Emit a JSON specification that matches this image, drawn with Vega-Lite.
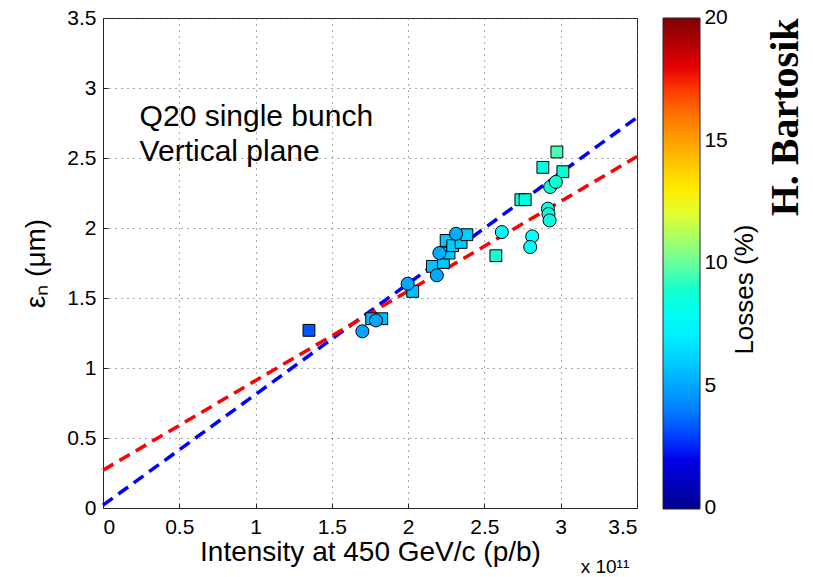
{
  "$schema": "https://vega.github.io/schema/vega-lite/v6.json",
  "width": 534,
  "height": 490,
  "autosize": {"type": "none"},
  "padding": {"left": 103, "top": 18, "right": 176, "bottom": 69},
  "background": "white",
  "config": {
    "font": "Liberation Sans",
    "view": {"stroke": "#262626", "strokeWidth": 1},
    "axis": {
      "domainColor": "#262626",
      "tickColor": "#262626",
      "tickSize": -5,
      "labelFontSize": 21,
      "labelColor": "black",
      "titleFontSize": 28,
      "titleFontWeight": "normal",
      "titleColor": "black",
      "grid": true,
      "gridDash": [1, 5],
      "gridColor": "#555555",
      "gridOpacity": 1,
      "format": "~g"
    }
  },
  "datasets": {
    "pts": [
      {"intensity": 1.350, "emit": 1.269, "loss": 3.3, "kind": "square"},
      {"intensity": 1.761, "emit": 1.352, "loss": 5.3, "kind": "square"},
      {"intensity": 1.827, "emit": 1.352, "loss": 5.5, "kind": "square"},
      {"intensity": 2.030, "emit": 1.547, "loss": 5.6, "kind": "square"},
      {"intensity": 2.159, "emit": 1.726, "loss": 5.7, "kind": "square"},
      {"intensity": 2.231, "emit": 1.754, "loss": 5.8, "kind": "square"},
      {"intensity": 2.268, "emit": 1.821, "loss": 5.8, "kind": "square"},
      {"intensity": 2.249, "emit": 1.911, "loss": 5.9, "kind": "square"},
      {"intensity": 2.292, "emit": 1.874, "loss": 6.0, "kind": "square"},
      {"intensity": 2.347, "emit": 1.897, "loss": 6.0, "kind": "square"},
      {"intensity": 2.385, "emit": 1.952, "loss": 6.1, "kind": "square"},
      {"intensity": 2.575, "emit": 1.802, "loss": 9.0, "kind": "square"},
      {"intensity": 2.739, "emit": 2.202, "loss": 8.5, "kind": "square"},
      {"intensity": 2.767, "emit": 2.202, "loss": 8.5, "kind": "square"},
      {"intensity": 2.883, "emit": 2.433, "loss": 8.4, "kind": "square"},
      {"intensity": 3.014, "emit": 2.402, "loss": 8.8, "kind": "square"},
      {"intensity": 2.975, "emit": 2.543, "loss": 9.5, "kind": "square"},
      {"intensity": 1.700, "emit": 1.262, "loss": 4.9, "kind": "circle"},
      {"intensity": 1.789, "emit": 1.340, "loss": 5.0, "kind": "circle"},
      {"intensity": 1.997, "emit": 1.602, "loss": 5.0, "kind": "circle"},
      {"intensity": 2.188, "emit": 1.662, "loss": 5.1, "kind": "circle"},
      {"intensity": 2.205, "emit": 1.821, "loss": 5.1, "kind": "circle"},
      {"intensity": 2.314, "emit": 1.959, "loss": 5.2, "kind": "circle"},
      {"intensity": 2.614, "emit": 1.971, "loss": 7.4, "kind": "circle"},
      {"intensity": 2.813, "emit": 1.940, "loss": 7.6, "kind": "circle"},
      {"intensity": 2.800, "emit": 1.864, "loss": 7.5, "kind": "circle"},
      {"intensity": 2.916, "emit": 2.138, "loss": 8.5, "kind": "circle"},
      {"intensity": 2.920, "emit": 2.100, "loss": 8.6, "kind": "circle"},
      {"intensity": 2.927, "emit": 2.054, "loss": 8.4, "kind": "circle"},
      {"intensity": 2.931, "emit": 2.293, "loss": 8.9, "kind": "circle"},
      {"intensity": 2.968, "emit": 2.329, "loss": 8.9, "kind": "circle"}
    ],
    "blueFit": [
      {"intensity": 0, "emit": 0.02},
      {"intensity": 3.5, "emit": 2.79}
    ],
    "redFit": [
      {"intensity": 0, "emit": 0.27},
      {"intensity": 3.5, "emit": 2.51}
    ],
    "notes": [
      {"intensity": 0.24, "emit": 2.795, "label": "Q20 single bunch"},
      {"intensity": 0.24, "emit": 2.54, "label": "Vertical plane"}
    ],
    "mult": [{"intensity": 3.29, "emit": -0.42, "label": "x 10¹¹"}],
    "barLabels": [
      {"intensity": 3.942, "emit": 0, "label": "0"},
      {"intensity": 3.942, "emit": 0.875, "label": "5"},
      {"intensity": 3.942, "emit": 1.75, "label": "10"},
      {"intensity": 3.942, "emit": 2.625, "label": "15"},
      {"intensity": 3.942, "emit": 3.5, "label": "20"}
    ],
    "legendTitle": [{"intensity": 4.21, "emit": 1.56, "label": "Losses (%)"}],
    "author": [{"intensity": 4.475, "emit": 2.79, "label": "H. Bartosik"}]
  },
  "layer": [
    {
      "data": {"name": "blueFit"},
      "mark": {"type": "line", "color": "#0000ff", "strokeWidth": 3.5, "strokeDash": [12, 7]},
      "encoding": {
        "x": {"field": "intensity", "type": "quantitative", "scale": {"domain": [0, 3.5], "nice": false},
          "axis": {"values": [0, 0.5, 1, 1.5, 2, 2.5, 3, 3.5], "title": "Intensity at 450 GeV/c (p/b)", "labelPadding": 13, "titlePadding": 1}},
        "y": {"field": "emit", "type": "quantitative", "scale": {"domain": [0, 3.5], "nice": false},
          "axis": {"values": [0, 0.5, 1, 1.5, 2, 2.5, 3, 3.5], "title": "εₙ (μm)", "labelPadding": 12, "titlePadding": 16}}
      }
    },
    {
      "data": {"name": "redFit"},
      "mark": {"type": "line", "color": "#ff0000", "strokeWidth": 3.5, "strokeDash": [12, 7]},
      "encoding": {
        "x": {"field": "intensity", "type": "quantitative"},
        "y": {"field": "emit", "type": "quantitative"}
      }
    },
    {
      "data": {"name": "pts"},
      "transform": [{"filter": "datum.kind === 'square'"}],
      "mark": {"type": "square", "size": 140, "stroke": "black", "strokeWidth": 1, "opacity": 1},
      "encoding": {
        "x": {"field": "intensity", "type": "quantitative"},
        "y": {"field": "emit", "type": "quantitative"},
        "fill": {"field": "loss", "type": "quantitative",
          "scale": {"domain": [0, 2.5, 7.5, 12.5, 17.5, 20], "range": ["#00008f", "#0000ff", "#00ffff", "#ffff00", "#ff0000", "#800000"]},
          "legend": {
            "orient": "none", "legendX": 560, "legendY": 0, "direction": "vertical",
            "values": [0, 5, 10, 15, 20],
            "gradientLength": 491, "gradientThickness": 37,
            "gradientStrokeColor": "#262626", "gradientStrokeWidth": 1,
            "labelOpacity": 0, "labelFontSize": 1,
            "title": null
          }
        }
      }
    },
    {
      "data": {"name": "pts"},
      "transform": [{"filter": "datum.kind === 'circle'"}],
      "mark": {"type": "circle", "size": 170, "stroke": "black", "strokeWidth": 1, "opacity": 1},
      "encoding": {
        "x": {"field": "intensity", "type": "quantitative"},
        "y": {"field": "emit", "type": "quantitative"},
        "fill": {"field": "loss", "type": "quantitative"}
      }
    },
    {
      "data": {"name": "notes"},
      "mark": {"type": "text", "align": "left", "baseline": "middle", "fontSize": 30, "color": "black"},
      "encoding": {
        "x": {"field": "intensity", "type": "quantitative"},
        "y": {"field": "emit", "type": "quantitative"},
        "text": {"field": "label"}
      }
    },
    {
      "data": {"name": "mult"},
      "mark": {"type": "text", "align": "center", "baseline": "middle", "fontSize": 19, "color": "black"},
      "encoding": {
        "x": {"field": "intensity", "type": "quantitative"},
        "y": {"field": "emit", "type": "quantitative"},
        "text": {"field": "label"}
      }
    },
    {
      "data": {"name": "barLabels"},
      "mark": {"type": "text", "align": "left", "baseline": "middle", "fontSize": 21, "color": "black"},
      "encoding": {
        "x": {"field": "intensity", "type": "quantitative"},
        "y": {"field": "emit", "type": "quantitative"},
        "text": {"field": "label"}
      }
    },
    {
      "data": {"name": "legendTitle"},
      "mark": {"type": "text", "align": "center", "baseline": "middle", "fontSize": 26, "angle": 270, "color": "black"},
      "encoding": {
        "x": {"field": "intensity", "type": "quantitative"},
        "y": {"field": "emit", "type": "quantitative"},
        "text": {"field": "label"}
      }
    },
    {
      "data": {"name": "author"},
      "mark": {"type": "text", "align": "center", "baseline": "middle", "fontSize": 40, "font": "Liberation Serif", "fontWeight": "bold", "angle": 270, "color": "black"},
      "encoding": {
        "x": {"field": "intensity", "type": "quantitative"},
        "y": {"field": "emit", "type": "quantitative"},
        "text": {"field": "label"}
      }
    }
  ]
}
